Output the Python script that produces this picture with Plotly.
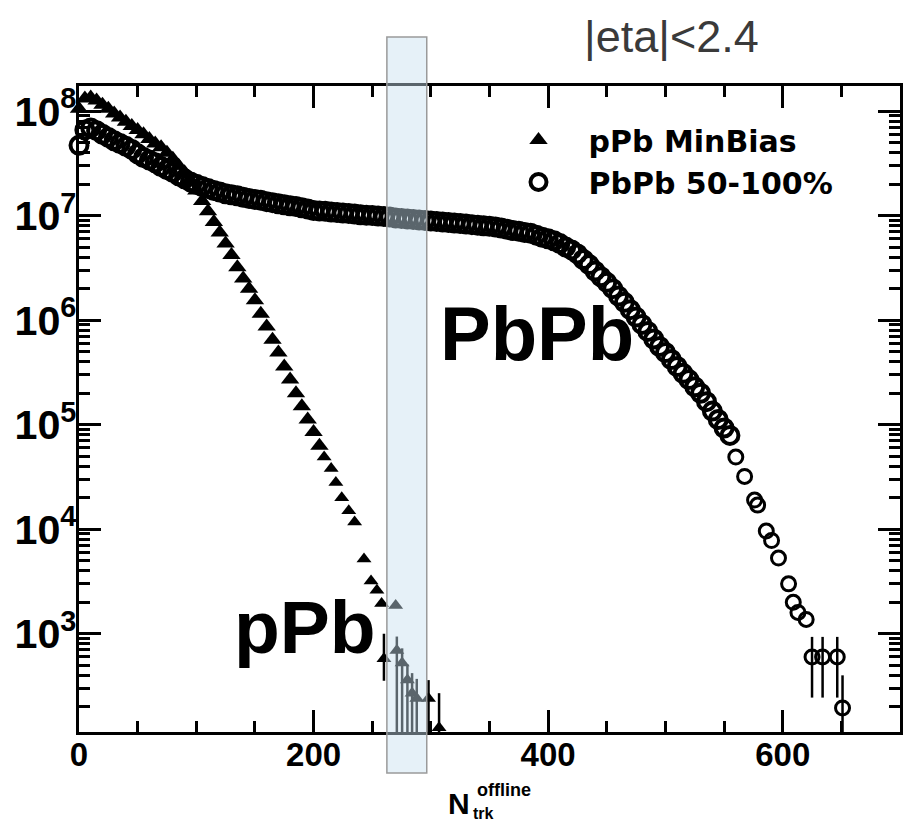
import plotly.graph_objects as go

# ---------------- data ----------------
ppb_n = [0, 5, 10, 15, 20, 25, 30, 35, 40, 45, 50, 55, 60, 65, 70, 75, 80, 85, 90, 95,
         100, 105, 110, 115, 120, 125, 130, 135, 140, 145, 150, 155, 160, 165, 170, 175,
         180, 185, 190, 195, 200, 205]
ppb_y = [1.05e8, 1.32e8, 1.35e8, 1.26e8, 1.15e8, 1.05e8, 9.5e7, 8.7e7, 7.9e7, 7.2e7,
         6.6e7, 6.0e7, 5.4e7, 4.9e7, 4.5e7, 4.0e7, 3.5e7, 3.0e7, 2.6e7, 2.1e7,
         1.74e7, 1.38e7, 1.10e7, 8.7e6, 6.9e6, 5.4e6, 4.2e6, 3.2e6, 2.5e6, 2.0e6,
         1.55e6, 1.15e6, 8.7e5, 6.5e5, 4.9e5, 3.6e5, 2.7e5, 2.0e5, 1.5e5, 1.12e5,
         8.5e4, 6.3e4]
# sparser pPb points at high multiplicity
ppb_hi_n = [209, 215, 219, 224, 230, 235, 243, 249, 254, 258, 270]
ppb_hi_y = [4.9e4, 3.8e4, 2.8e4, 2.0e4, 1.5e4, 1.17e4, 5.2e3, 3.2e3, 2.6e3, 1.95e3, 1.86e3]
# pPb tail points with error bars
ppb_tail_n = [260, 271, 275.5, 280, 284, 288, 298, 307]
ppb_tail_y = [575, 690, 525, 360, 270, 240, 240, 126]
ppb_tail_up = [425, 250, 200, 150, 150, 130, 120, 144]
ppb_tail_dn = [220, 600, 480, 330, 250, 225, 225, 120]

pbpb_n = [0, 5, 10, 15, 20, 25, 30, 35, 40, 45, 50, 55, 60, 65, 70, 75, 80, 85, 90, 95,
          100, 105, 110, 115, 120, 125, 130, 135, 140, 145, 150, 155, 160, 165, 170, 175,
          180, 185, 190, 195, 200, 205, 210, 215, 220, 225, 230, 235, 240, 245, 250, 255,
          260, 265, 270, 275, 280, 285, 290, 295, 300, 305, 310, 315, 320, 325, 330, 335,
          340, 345, 350, 355, 360, 365, 370, 375, 380, 385, 390, 395, 400, 405, 410, 415,
          420, 425, 430, 435, 440, 445, 450, 455, 460, 465, 470, 475, 480, 485, 490, 495,
          500, 505, 510, 515, 520, 525, 530, 535, 540, 545, 550, 555]
pbpb_y = [4.7e7, 6.6e7, 6.9e7, 6.5e7, 6.0e7, 5.6e7, 5.2e7, 4.9e7, 4.6e7, 4.3e7,
          3.9e7, 3.6e7, 3.4e7, 3.2e7, 2.95e7, 2.75e7, 2.6e7, 2.4e7, 2.25e7, 2.1e7,
          2.0e7, 1.9e7, 1.82e7, 1.74e7, 1.68e7, 1.62e7, 1.58e7, 1.55e7, 1.50e7, 1.46e7,
          1.43e7, 1.40e7, 1.36e7, 1.33e7, 1.30e7, 1.27e7, 1.24e7, 1.22e7, 1.19e7, 1.16e7,
          1.12e7, 1.11e7, 1.10e7, 1.08e7, 1.07e7, 1.06e7, 1.05e7, 1.035e7, 1.02e7, 1.01e7,
          1.00e7, 9.9e6, 9.8e6, 9.7e6, 9.5e6, 9.4e6, 9.3e6, 9.2e6, 9.1e6, 9.0e6,
          8.9e6, 8.8e6, 8.7e6, 8.6e6, 8.5e6, 8.4e6, 8.3e6, 8.2e6, 8.1e6, 8.0e6,
          7.9e6, 7.8e6, 7.6e6, 7.4e6, 7.2e6, 7.1e6, 6.9e6, 6.8e6, 6.5e6, 6.2e6,
          6.0e6, 5.75e6, 5.4e6, 5.0e6, 4.7e6, 4.3e6, 3.8e6, 3.4e6, 2.95e6, 2.6e6,
          2.3e6, 2.0e6, 1.7e6, 1.48e6, 1.26e6, 1.07e6, 9.1e5, 7.8e5, 6.6e5, 5.6e5,
          4.9e5, 4.2e5, 3.6e5, 3.1e5, 2.7e5, 2.3e5, 2.0e5, 1.66e5, 1.35e5, 1.12e5,
          9.3e4, 7.9e4]
# sparser PbPb points at high multiplicity
pbpb_hi_n = [560, 567.5, 576, 578.6, 586, 590.5, 596.4, 605, 609, 613, 620]
pbpb_hi_y = [4.9e4, 3.2e4, 1.9e4, 1.7e4, 9.6e3, 7.8e3, 5.3e3, 3.0e3, 2.0e3, 1.6e3, 1.37e3]
pbpb_tail_n = [625, 634, 646.5, 651]
pbpb_tail_y = [600, 600, 600, 195]
pbpb_tail_up = [333, 333, 333, 205]
pbpb_tail_dn = [355, 355, 355, 180]

x_ticks = [0, 200, 400, 600]
x_range = [0, 700]
y_log_range = [2.06, 8.24]
band_n = [262.5, 296.5]          # highlighted N_trk window

legend_names = ["pPb MinBias", "PbPb 50-100%"]

# ---------------- layout geometry ----------------
W, H = 903, 825
L, R, T, B = 79, 0, 86, 93
PW, PH = W - L - R, H - T - B


def px(xp):
    return (xp - L) / PW


def py(yp):
    return (T + PH - yp) / PH


fig = go.Figure()

tri_dense = dict(symbol="triangle-up", size=16, color="black", line=dict(width=0))
tri_sparse = dict(symbol="triangle-up", size=13, color="black", line=dict(width=0))
circ_dense = dict(symbol="circle-open", size=17, color="black", line=dict(width=4))
circ_sparse = dict(symbol="circle-open", size=14, color="black", line=dict(width=3))

fig.add_trace(go.Scatter(x=ppb_n, y=ppb_y, mode="markers", name=legend_names[0],
                         legendgroup="ppb", marker=tri_dense, cliponaxis=False))
fig.add_trace(go.Scatter(x=ppb_hi_n, y=ppb_hi_y, mode="markers", showlegend=False,
                         legendgroup="ppb", marker=tri_sparse, cliponaxis=False))
fig.add_trace(go.Scatter(
    x=ppb_tail_n, y=ppb_tail_y, mode="markers", showlegend=False, legendgroup="ppb",
    marker=tri_sparse,
    error_y=dict(type="data", array=ppb_tail_up, arrayminus=ppb_tail_dn,
                 color="black", thickness=2.5, width=0),
))
fig.add_trace(go.Scatter(x=pbpb_n, y=pbpb_y, mode="markers", name=legend_names[1],
                         legendgroup="pbpb", marker=circ_dense, cliponaxis=False))
fig.add_trace(go.Scatter(x=pbpb_hi_n, y=pbpb_hi_y, mode="markers", showlegend=False,
                         legendgroup="pbpb", marker=circ_sparse, cliponaxis=False))
fig.add_trace(go.Scatter(
    x=pbpb_tail_n, y=pbpb_tail_y, mode="markers", showlegend=False, legendgroup="pbpb",
    marker=circ_sparse,
    error_y=dict(type="data", array=pbpb_tail_up, arrayminus=pbpb_tail_dn,
                 color="black", thickness=2.5, width=0),
))

tickfont = dict(family="Liberation Sans", size=33, color="black", weight="bold")

fig.update_xaxes(
    range=x_range, tickvals=x_ticks, ticks="inside", ticklen=22, tickwidth=3,
    tickcolor="black", showline=True, linewidth=3, linecolor="black",
    mirror="allticks", showgrid=False, zeroline=False, tickfont=tickfont,
    ticklabelstandoff=-9,
    minor=dict(dtick=50, ticks="inside", ticklen=11, tickwidth=3, tickcolor="black",
               showgrid=False),
)
fig.update_yaxes(
    type="log", range=y_log_range, dtick=1, exponentformat="power", showexponent="all",
    ticks="inside", ticklen=22, tickwidth=3, tickcolor="black",
    showline=True, linewidth=3, linecolor="black", mirror="allticks",
    showgrid=False, zeroline=False, tickfont=tickfont, ticklabelstandoff=-7,
    minor=dict(ticks="inside", ticklen=11, tickwidth=3, tickcolor="black", showgrid=False),
)

# highlighted window (drawn above everything)
fig.add_shape(
    type="rect", xref="paper", yref="paper",
    x0=band_n[0] / x_range[1], x1=band_n[1] / x_range[1],
    y0=py(773), y1=py(37),
    fillcolor="rgba(200,225,240,0.45)", line=dict(color="#9a9a9a", width=1.5),
    layer="above",
)

bold = "Liberation Sans"
annots = [
    dict(text="PbPb", x=px(539), y=py(333), font=dict(family=bold, size=76, weight="bold", color="black")),
    dict(text="pPb", x=px(306), y=py(627), font=dict(family=bold, size=75, weight="bold", color="black")),
    dict(text="|eta|<2.4", x=px(674), y=py(36), font=dict(family="Liberation Sans", size=45, color="#3a3a3a")),
    dict(text="N", x=px(460), y=py(803), font=dict(family=bold, size=30, weight="bold", color="black")),
    dict(text="offline", x=px(506), y=py(790), font=dict(family=bold, size=18, weight="bold", color="black")),
    dict(text="trk", x=px(485), y=py(813), font=dict(family=bold, size=16, weight="bold", color="black")),
]
for a in annots:
    fig.add_annotation(xref="paper", yref="paper", showarrow=False,
                       xanchor="center", yanchor="middle", **a)

fig.update_layout(
    width=W, height=H, margin=dict(l=L, r=R, t=T, b=B, pad=0),
    paper_bgcolor="white", plot_bgcolor="white",
    showlegend=True,
    legend=dict(x=px(490), y=py(114), xanchor="left", yanchor="top",
                bgcolor="rgba(0,0,0,0)", borderwidth=0, itemwidth=90,
                tracegroupgap=0,
                font=dict(family="DejaVu Sans", size=30, weight="bold", color="black")),
)

fig.write_html("out.html")
